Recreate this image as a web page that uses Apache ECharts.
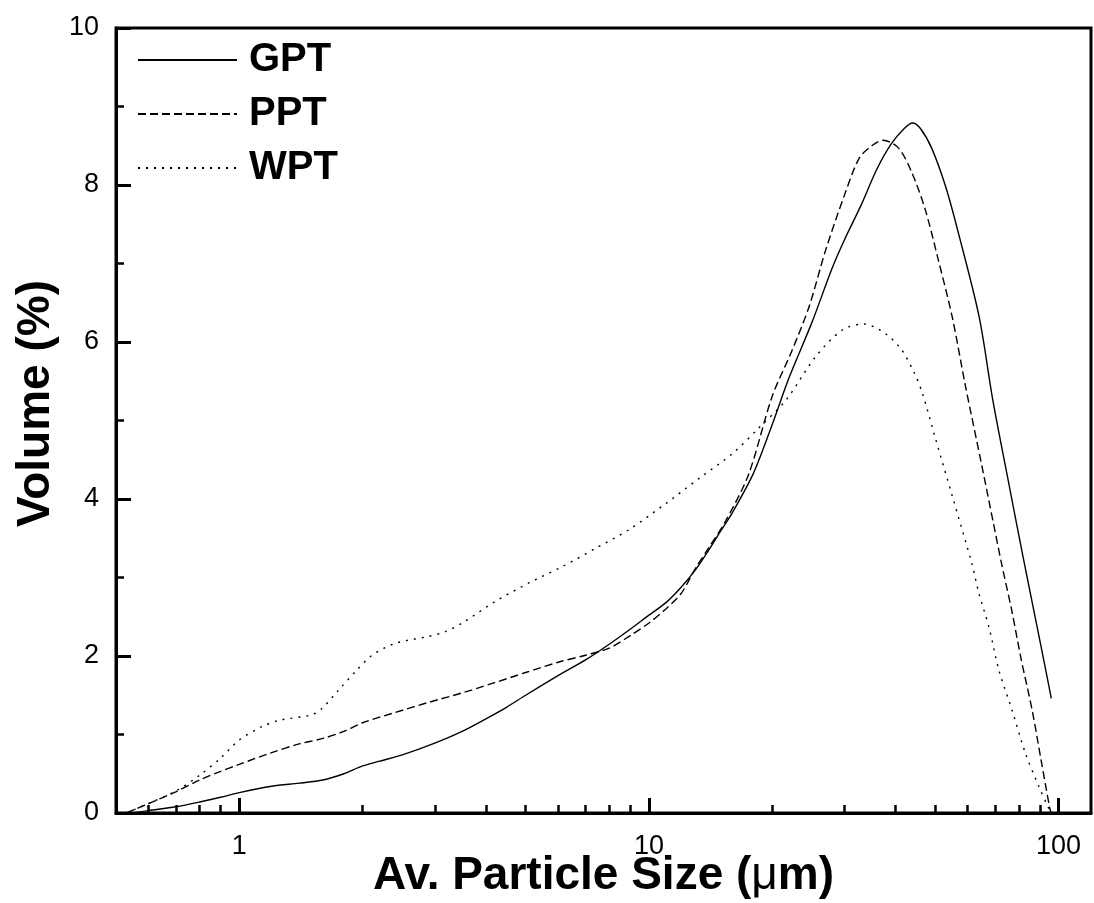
<!DOCTYPE html>
<html>
<head>
<meta charset="utf-8">
<script src="https://cdn.jsdelivr.net/npm/echarts@6/dist/echarts.min.js"></script>
<style>
html,body{margin:0;padding:0;background:#fff;}
#chart{width:1094px;height:903px;}
</style>
</head>
<body>
<div id="chart"></div>
<script>
// ---- data ----
const seriesNames = ['GPT', 'PPT', 'WPT'];

const gptSize = [0.55, 0.6, 0.7, 0.8, 0.9, 1.0, 1.2, 1.4, 1.6, 1.8, 2.0, 2.2, 2.5, 3.0, 3.5, 4.0, 4.5, 5, 6, 7, 8, 9, 10, 11, 12, 13, 14, 15, 16, 18, 20, 22, 25, 28, 30, 33, 36, 39, 42, 44, 46, 49, 53, 57, 64, 69, 75, 82, 90, 96];
const gptVol  = [0, 0.03, 0.08, 0.14, 0.2, 0.26, 0.34, 0.38, 0.42, 0.5, 0.6, 0.66, 0.74, 0.89, 1.04, 1.2, 1.35, 1.5, 1.75, 1.95, 2.15, 2.34, 2.52, 2.68, 2.88, 3.1, 3.35, 3.6, 3.83, 4.33, 4.95, 5.55, 6.25, 6.94, 7.3, 7.75, 8.2, 8.52, 8.72, 8.79, 8.72, 8.47, 7.98, 7.38, 6.32, 5.28, 4.29, 3.25, 2.2, 1.46];

const pptSize = [0.53, 0.6, 0.7, 0.8, 0.9, 1.0, 1.2, 1.4, 1.6, 1.8, 2.0, 2.4, 2.9, 3.5, 4.2, 5, 6, 7, 8, 9, 10, 11, 12, 13, 14, 15.35, 17.5, 20, 22.3, 24.6, 27, 30.1, 32.6, 35, 37.3, 40.7, 43.9, 47.3, 50.9, 55, 59.3, 65, 72.7, 76.8, 81.1, 86.2, 90.6, 95.2, 96];
const pptVol  = [0, 0.12, 0.27, 0.42, 0.53, 0.62, 0.77, 0.88, 0.95, 1.04, 1.15, 1.28, 1.41, 1.53, 1.66, 1.79, 1.92, 2.01, 2.1, 2.26, 2.42, 2.6, 2.8, 3.12, 3.38, 3.71, 4.31, 5.31, 5.88, 6.45, 7.17, 7.89, 8.34, 8.5, 8.57, 8.47, 8.15, 7.68, 7.04, 6.32, 5.43, 4.42, 3.16, 2.59, 1.95, 1.31, 0.68, 0.06, 0];

const wptSize = [0.53, 0.6, 0.7, 0.8, 0.9, 1.0, 1.135, 1.25, 1.5, 1.59, 1.75, 1.92, 2.11, 2.4, 2.9, 3.18, 3.5, 4.2, 5.09, 6.15, 7.4, 8.94, 10.98, 13.24, 16, 18.5, 21.6, 25.5, 29.6, 33.5, 37.7, 41.4, 44.5, 46.5, 50, 55, 61.4, 63.9, 67.6, 71.5, 77, 83, 89.5, 94.2, 96];
const wptVol  = [0, 0.12, 0.28, 0.48, 0.7, 0.93, 1.1, 1.18, 1.25, 1.33, 1.57, 1.8, 2.01, 2.16, 2.25, 2.31, 2.42, 2.69, 2.93, 3.14, 3.37, 3.61, 3.94, 4.26, 4.58, 4.9, 5.26, 5.81, 6.15, 6.23, 6.11, 5.9, 5.6, 5.35, 4.78, 4.04, 3.18, 2.8, 2.37, 1.82, 1.31, 0.76, 0.34, 0.08, 0];

const xMajorTicks = [1, 10, 100];
const xMinorTicks = [0.6, 0.7, 0.8, 0.9, 2, 3, 4, 5, 6, 7, 8, 9, 20, 30, 40, 50, 60, 70, 80, 90];
const yTicks = [0, 2, 4, 6, 8, 10];

const xTitle = 'Av. Particle Size ({mu|μ}m)';
const yTitle = 'Volume (%)';

// ---- chart ----
const FONT = '"Liberation Sans", Arial, sans-serif';
const zip = (xs, ys) => xs.map((x, i) => [x, ys[i]]);

const chart = echarts.init(document.getElementById('chart'), null, {renderer: 'canvas'});

const lineTypes = ['solid', [8, 4], [2, 6]];
const lineData = [zip(gptSize, gptVol), zip(pptSize, pptVol), zip(wptSize, wptVol)];

chart.setOption({
  animation: false,
  backgroundColor: '#fff',
  grid: {
    left: 116, right: 3, top: 28, bottom: 90,
    outerBoundsMode: 'none', containLabel: false,
    show: true, borderColor: '#000', borderWidth: 3, backgroundColor: 'transparent'
  },
  legend: {
    orient: 'vertical',
    left: 137, top: 40, padding: 0,
    itemWidth: 99, itemHeight: 14, itemGap: 14,
    data: seriesNames,
    itemStyle: {opacity: 0},
    textStyle: {fontFamily: FONT, fontSize: 40, fontWeight: 'bold', color: '#000', padding: [0, 0, 0, 7]}
  },
  xAxis: [{
    type: 'log', logBase: 10, min: 0.5, max: 120,
    name: xTitle, nameLocation: 'middle', nameGap: 40, nameMoveOverlap: false,
    nameTextStyle: {fontFamily: FONT, fontSize: 46, fontWeight: 'bold', color: '#000',
      rich: {mu: {fontFamily: FONT, fontSize: 46, fontWeight: 'normal', color: '#000'}}},
    axisLine: {show: true, onZero: false, lineStyle: {color: '#000', width: 3}},
    axisTick: {show: true, inside: true, length: 15, lineStyle: {color: '#000', width: 3}, customValues: xMajorTicks},
    axisLabel: {show: true, margin: 20, fontFamily: FONT, fontSize: 27, color: '#000', customValues: xMajorTicks,
      formatter: v => String(v)},
    splitLine: {show: false}
  }, {
    type: 'log', logBase: 10, min: 0.5, max: 120, position: 'bottom', gridIndex: 0,
    axisLine: {show: false},
    axisTick: {show: true, inside: true, length: 8, lineStyle: {color: '#000', width: 2.5}, customValues: xMinorTicks},
    axisLabel: {show: false},
    splitLine: {show: false}
  }],
  yAxis: {
    type: 'value', min: 0, max: 10, interval: 2,
    name: yTitle, nameLocation: 'middle', nameGap: 57, nameRotate: 90, nameMoveOverlap: false,
    nameTextStyle: {fontFamily: FONT, fontSize: 46, fontWeight: 'bold', color: '#000', padding: [0, 0, 0, 34]},
    axisLine: {show: true, onZero: false, lineStyle: {color: '#000', width: 3}},
    axisTick: {show: true, inside: true, length: 15, lineStyle: {color: '#000', width: 3}},
    minorTick: {show: true, splitNumber: 2, length: 8, lineStyle: {color: '#000', width: 2.5}},
    axisLabel: {margin: 17, fontFamily: FONT, fontSize: 27, color: '#000', customValues: yTicks},
    splitLine: {show: false}
  },
  series: seriesNames.map((name, i) => ({
    name: name,
    type: 'line',
    xAxisIndex: 0,
    data: lineData[i],
    smooth: 0.3,
    showSymbol: false,
    symbol: 'none',
    lineStyle: {color: '#000', width: 1.4, type: lineTypes[i]},
    itemStyle: {color: '#000'}
  }))
});
</script>
</body>
</html>
